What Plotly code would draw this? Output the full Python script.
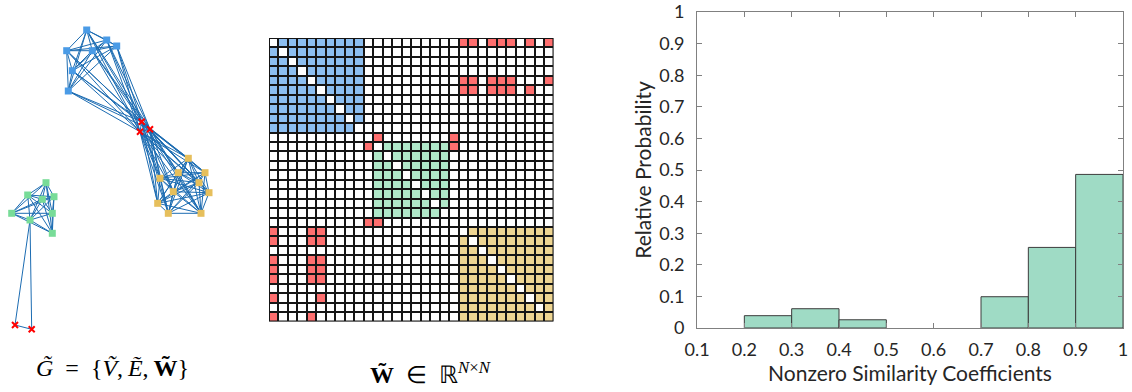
import plotly.graph_objects as go

W, H = 1132, 392

# ---------------- graph: node layout (pixel-like coordinates) ----------------
blue_nodes_x = [86.7, 66.7, 92.3, 106.7, 116.7, 72.3, 68.3]
blue_nodes_y = [30.0, 50.7, 50.7, 40.0, 46.0, 70.7, 91.0]
yellow_nodes_x = [188.3, 160.0, 178.3, 205.0, 199.0, 209.0, 157.7, 168.3, 201.0, 173.3]
yellow_nodes_y = [158.3, 178.3, 172.7, 172.7, 182.7, 192.7, 203.3, 213.3, 213.3, 191.7]
green_nodes_x = [46.0, 27.7, 42.3, 54.0, 11.7, 30.0, 52.3, 52.3]
green_nodes_y = [182.7, 195.0, 199.3, 196.7, 213.3, 220.0, 213.3, 233.3]
hub_nodes_x = [140.0, 141.7, 150.0]
hub_nodes_y = [131.7, 121.7, 129.3]
stray_nodes_x = [15.0, 31.7]
stray_nodes_y = [325.0, 329.3]

# ---------------- similarity matrix ----------------
N = 30
blue_block = (0, 9)       # inclusive index ranges
green_block = (11, 18)
yellow_block = (20, 29)
yellow_diag_zero = list(range(20, 29))
red_cells = {
    0: [20, 21, 23, 24, 25, 27, 29],
    4: [20, 21, 23, 24, 25, 29],
    5: [20, 21, 23, 24, 25, 27],
    10: [11, 19],
    11: [10, 19],
    19: [10, 11],
    20: [0, 4, 5],
    21: [0, 4, 5],
    23: [0, 4, 5],
    24: [0, 4, 5],
    25: [0, 4, 5],
    27: [0, 5],
    29: [0, 4],
}

# ---------------- histogram ----------------
bin_left = [0.2, 0.3, 0.4, 0.7, 0.8, 0.9]
bin_prob = [0.039, 0.061, 0.026, 0.099, 0.255, 0.486]
bin_width = 0.1

# colours
C_BLUE_NODE = "#4a9be6"
C_YELLOW_NODE = "#e6bf5c"
C_GREEN_NODE = "#78dc98"
C_EDGE = "#1c6cb2"
C_BLUE = "#8cbef0"
C_GREEN = "#b0e8c9"
C_YELLOW = "#eed592"
C_RED = "#ff6f6f"
C_BAR = "#9fdbc5"


def dx(px):
    return px / W


def dy(py):
    return 1 - py / H


fig = go.Figure()

# ---- graph edges ----
def pts(xs, ys):
    return list(zip(xs, ys))

blue = pts(blue_nodes_x, blue_nodes_y)
yellow = pts(yellow_nodes_x, yellow_nodes_y)
green = pts(green_nodes_x, green_nodes_y)
hub = pts(hub_nodes_x, hub_nodes_y)
stray = pts(stray_nodes_x, stray_nodes_y)

edges = []
for group in (blue, yellow, green, hub, stray):
    for i in range(len(group)):
        for j in range(i + 1, len(group)):
            edges.append((group[i], group[j]))
for a in blue + yellow:
    for b in hub:
        edges.append((a, b))
for s in stray:
    edges.append((s, green[5]))

ex, ey = [], []
for (a, b) in edges:
    ex += [a[0], b[0], None]
    ey += [a[1], b[1], None]

fig.add_trace(go.Scatter(x=ex, y=ey, mode="lines", line=dict(color=C_EDGE, width=1),
                         hoverinfo="skip", xaxis="x", yaxis="y"))
for xs, ys, col in ((blue_nodes_x, blue_nodes_y, C_BLUE_NODE),
                    (yellow_nodes_x, yellow_nodes_y, C_YELLOW_NODE),
                    (green_nodes_x, green_nodes_y, C_GREEN_NODE)):
    fig.add_trace(go.Scatter(x=xs, y=ys, mode="markers",
                             marker=dict(symbol="square", size=7, color=col),
                             hoverinfo="skip", xaxis="x", yaxis="y"))
fig.add_trace(go.Scatter(x=hub_nodes_x + stray_nodes_x, y=hub_nodes_y + stray_nodes_y,
                         mode="markers",
                         marker=dict(symbol="x-thin", size=6, color="#ff0000",
                                     line=dict(color="#ff0000", width=2)),
                         hoverinfo="skip", xaxis="x", yaxis="y"))

# ---- matrix ----
z = [[0] * N for _ in range(N)]
for (lo, hi), val in ((blue_block, 1), (green_block, 2), (yellow_block, 3)):
    for r in range(lo, hi + 1):
        for c in range(lo, hi + 1):
            z[r][c] = val
for i in range(blue_block[0], blue_block[1] + 1):
    z[i][i] = 0
for i in range(green_block[0], green_block[1] + 1):
    z[i][i] = 0
for i in yellow_diag_zero:
    z[i][i] = 0
for r, cols in red_cells.items():
    for c in cols:
        z[r][c] = 4

cs = [[0, "white"], [0.125, "white"], [0.125, C_BLUE], [0.375, C_BLUE],
      [0.375, C_GREEN], [0.625, C_GREEN], [0.625, C_YELLOW], [0.875, C_YELLOW],
      [0.875, C_RED], [1, C_RED]]
fig.add_trace(go.Heatmap(z=z, x=list(range(N)), y=list(range(N)), zmin=0, zmax=4,
                         colorscale=cs, showscale=False, xgap=2, ygap=2,
                         hoverinfo="skip", xaxis="x2", yaxis="y2"))

# ---- histogram ----
fig.add_trace(go.Bar(x=[b + bin_width / 2 for b in bin_left], y=bin_prob, width=bin_width,
                     marker=dict(color=C_BAR, line=dict(color="#3c3c3c", width=1)),
                     hoverinfo="skip", xaxis="x3", yaxis="y3"))

hidden = dict(visible=False, showgrid=False, zeroline=False, automargin=False)
tick_font = dict(family="Lato", size=18, color="#262626")
title_font = dict(family="Lato", size=21, color="#262626")

fig.update_layout(
    width=W, height=H, margin=dict(l=0, r=0, t=0, b=0),
    paper_bgcolor="white", plot_bgcolor="white", showlegend=False,
    xaxis=dict(domain=[0, dx(230)], range=[0, 230], anchor="y", **hidden),
    yaxis=dict(domain=[0, 1], range=[392, 0], anchor="x", **hidden),
    xaxis2=dict(domain=[dx(269), dx(553.5)], range=[-0.5, N - 0.5], anchor="y2", **hidden),
    yaxis2=dict(domain=[dy(321.5), dy(38)], range=[N - 0.5, -0.5], anchor="x2", **hidden),
    xaxis3=dict(domain=[dx(697), dx(1123)], range=[0.1, 1], anchor="y3", automargin=False,
                tickvals=[0.1, 0.2, 0.3, 0.4, 0.5, 0.6, 0.7, 0.8, 0.9, 1.0],
                ticktext=["0.1", "0.2", "0.3", "0.4", "0.5", "0.6", "0.7", "0.8", "0.9", "1"],
                ticks="inside", ticklen=5, tickcolor="#808080", showline=True,
                linecolor="#808080", linewidth=1, mirror="ticks", showgrid=False,
                zeroline=False, tickfont=tick_font, ticklabelstandoff=5,
                title=dict(text="Nonzero Similarity Coefficients", font=title_font, standoff=7)),
    yaxis3=dict(domain=[dy(328), dy(12)], range=[0, 1], anchor="x3", automargin=False,
                tickvals=[0, 0.1, 0.2, 0.3, 0.4, 0.5, 0.6, 0.7, 0.8, 0.9, 1.0],
                ticktext=["0", "0.1", "0.2", "0.3", "0.4", "0.5", "0.6", "0.7", "0.8", "0.9", "1"],
                ticks="inside", ticklen=5, tickcolor="#808080", showline=True,
                linecolor="#808080", linewidth=1, mirror="ticks", showgrid=False,
                zeroline=False, tickfont=tick_font, ticklabelstandoff=8,
                title=dict(text="Relative Probability", font=title_font, standoff=1)),
    shapes=[
        dict(type="rect", xref="x2", yref="y2", x0=-0.5, x1=N - 0.5, y0=-0.5, y1=N - 0.5,
             fillcolor="#151515", line=dict(width=0), layer="below"),
        dict(type="rect", xref="x2", yref="y2", x0=-0.5, x1=N - 0.5, y0=-0.5, y1=N - 0.5,
             line=dict(color="#151515", width=2), layer="above"),
    ],
    annotations=[
        dict(text="<i>G\u0303</i>\u2002=\u2002{<i>\u1e7c</i>,\u2009<i>\u1ebc</i>,\u2009<b>W\u0303</b>}",
             x=dx(112), y=dy(368), xref="paper", yref="paper", showarrow=False,
             xanchor="center", yanchor="middle",
             font=dict(family="Liberation Serif", size=24, color="black")),
        dict(text="<b>W\u0303</b>\u2002\u2208\u2002\u211d<sup><i>N</i>\u00d7<i>N</i></sup>",
             x=dx(430), y=dy(373), xref="paper", yref="paper", showarrow=False,
             xanchor="center", yanchor="middle",
             font=dict(family="Liberation Serif", size=24, color="black")),
    ],
)

fig.write_html("out.html")
